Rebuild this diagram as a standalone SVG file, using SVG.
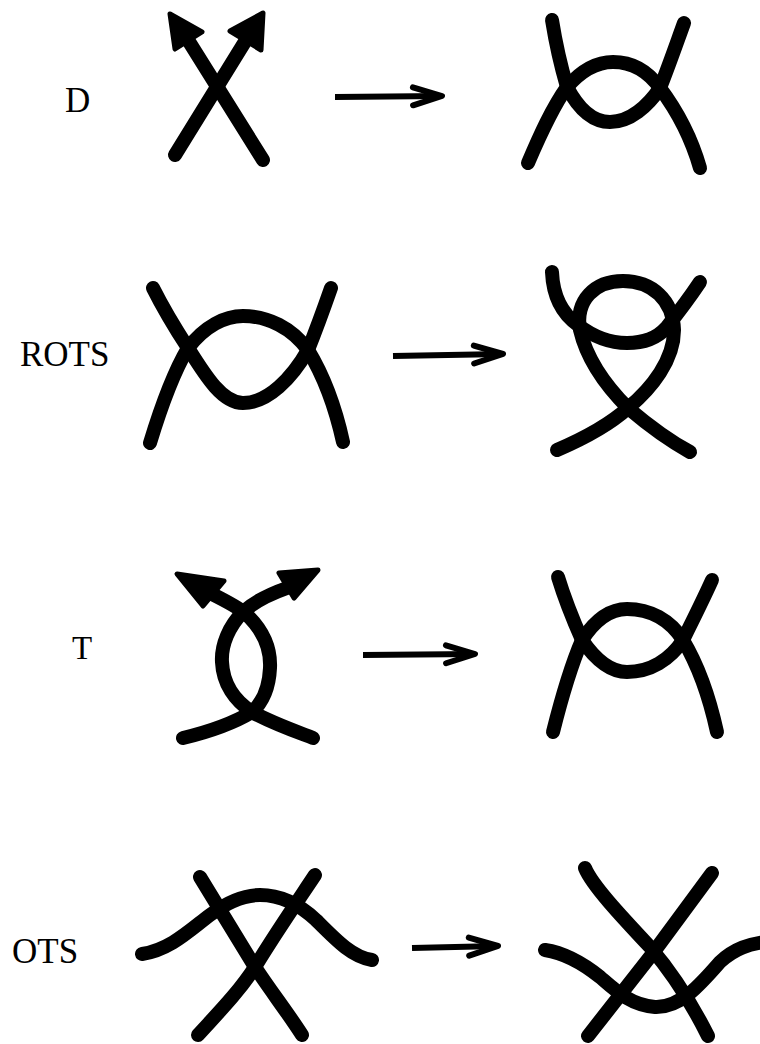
<svg xmlns="http://www.w3.org/2000/svg" width="760" height="1044" viewBox="0 0 760 1044">
<style>
.s{fill:none;stroke:#000;stroke-width:14;stroke-linecap:round;stroke-linejoin:round}
.h{fill:#000;stroke:#000;stroke-width:5;stroke-linejoin:round}
.a{fill:none;stroke:#000;stroke-width:6;stroke-linecap:butt}
.lbl{font-family:"Liberation Serif","Times New Roman",serif;font-size:35px;fill:#000}
</style>
<defs>
<marker id="ah" viewBox="0 0 36 26" refX="33" refY="13" markerWidth="36" markerHeight="26" markerUnits="userSpaceOnUse" orient="auto">
<path d="M4,4 L33,13 L4,22" fill="none" stroke="#000" stroke-width="6" stroke-linecap="round" stroke-linejoin="round"/>
<path d="M33,13 L12,6.5 L17,13 L12,19.5 Z" fill="#000"/>
</marker>
</defs>
<rect width="760" height="1044" fill="#fff"/>

<g id="labels">
<text class="lbl" x="65" y="112">D</text>
<text class="lbl" x="20" y="366">ROTS</text>
<text class="lbl" x="72" y="659" style="font-size:33px">T</text>
<text class="lbl" x="12" y="963">OTS</text>
</g>

<g id="D-left">
<path class="s" d="M263,160 L188,40"/>
<path class="s" d="M175,155 L246,40"/>
<polygon class="h" points="170,14 202,32 175,49"/>
<polygon class="h" points="263,13 261,50 230,31"/>
</g>

<g id="D-right">
<path class="s" d="M552,20 C556,45 562,70 567,87 C578,108 592,122 610,122 C630,122 648,106 660,88 C668,68 676,45 684,23"/>
<path class="s" d="M528,163 C540,135 552,108 567,87 C580,72 595,62 613,62 C635,62 650,74 660,88 C678,112 692,140 700,168"/>
</g>

<g id="ROTS-left">
<path class="s" d="M153,288 C163,308 175,328 188,348 C205,375 222,403 243,403 C268,403 292,378 308,350 C316,330 324,308 331,288"/>
<path class="s" d="M150,443 C160,410 172,375 188,348 C205,326 225,316 243,316 C268,316 292,328 308,350 C325,378 336,410 343,442"/>
</g>

<g id="ROTS-right">
<path class="s" d="M557,450 C585,438 608,426 628,408 C605,385 587,360 580,330 C575,300 595,281 623,281 C652,281 673,300 674,330 C674,360 652,388 628,408 C648,425 668,440 690,452"/>
<path class="s" d="M552,272 C553,295 561,313 578,325 C595,338 610,343 627,343 C645,343 658,337 666,328 C678,313 690,297 700,282"/>
</g>

<g id="T-left">
<path class="s" d="M212,594 C226,601 238,607 246,614 C263,630 271,648 270,668 C269,690 262,703 252,712 C232,724 208,732 183,738"/>
<path class="s" d="M287,588 C270,594 254,602 243,612 C229,626 221,645 222,662 C223,684 235,701 252,712 C272,723 292,730 313,738"/>
<polygon class="h" points="177,574 224,581 203,606"/>
<polygon class="h" points="279,573 318,570 294,598"/>
</g>

<g id="T-right">
<path class="s" d="M558,577 C565,600 574,622 582,640 C597,662 611,672 627,672 C650,672 670,660 683,640 C693,620 703,600 712,580"/>
<path class="s" d="M553,732 C561,700 570,668 582,640 C595,620 610,609 627,609 C650,609 670,620 683,640 C698,665 710,700 717,732"/>
</g>

<g id="OTS-left">
<path class="s" d="M200,877 C220,910 240,942 255,967 C270,990 288,1013 302,1035"/>
<path class="s" d="M315,875 C295,905 273,937 255,967 C238,993 218,1013 198,1035"/>
<path class="s" d="M142,954 C170,950 190,930 210,915 C230,900 245,895 260,895 C282,895 300,905 316,920 C336,940 352,957 372,960"/>
</g>

<g id="OTS-right">
<path class="s" d="M585,868 C592,885 620,915 650,947 C668,968 690,1000 708,1036"/>
<path class="s" d="M712,873 L653,953 L588,1036"/>
<path class="s" d="M545,950 C565,953 585,965 600,977 C615,990 630,1005 655,1007 C680,1008 700,985 720,962 C735,948 750,944 765,942"/>
</g>

<g id="connectors">
<line class="a" x1="335" y1="97" x2="442" y2="96" marker-end="url(#ah)"/>
<line class="a" x1="393" y1="356" x2="503" y2="354" marker-end="url(#ah)"/>
<line class="a" x1="363" y1="655" x2="475" y2="654" marker-end="url(#ah)"/>
<line class="a" x1="412" y1="948" x2="498" y2="946" marker-end="url(#ah)"/>
</g>
</svg>
